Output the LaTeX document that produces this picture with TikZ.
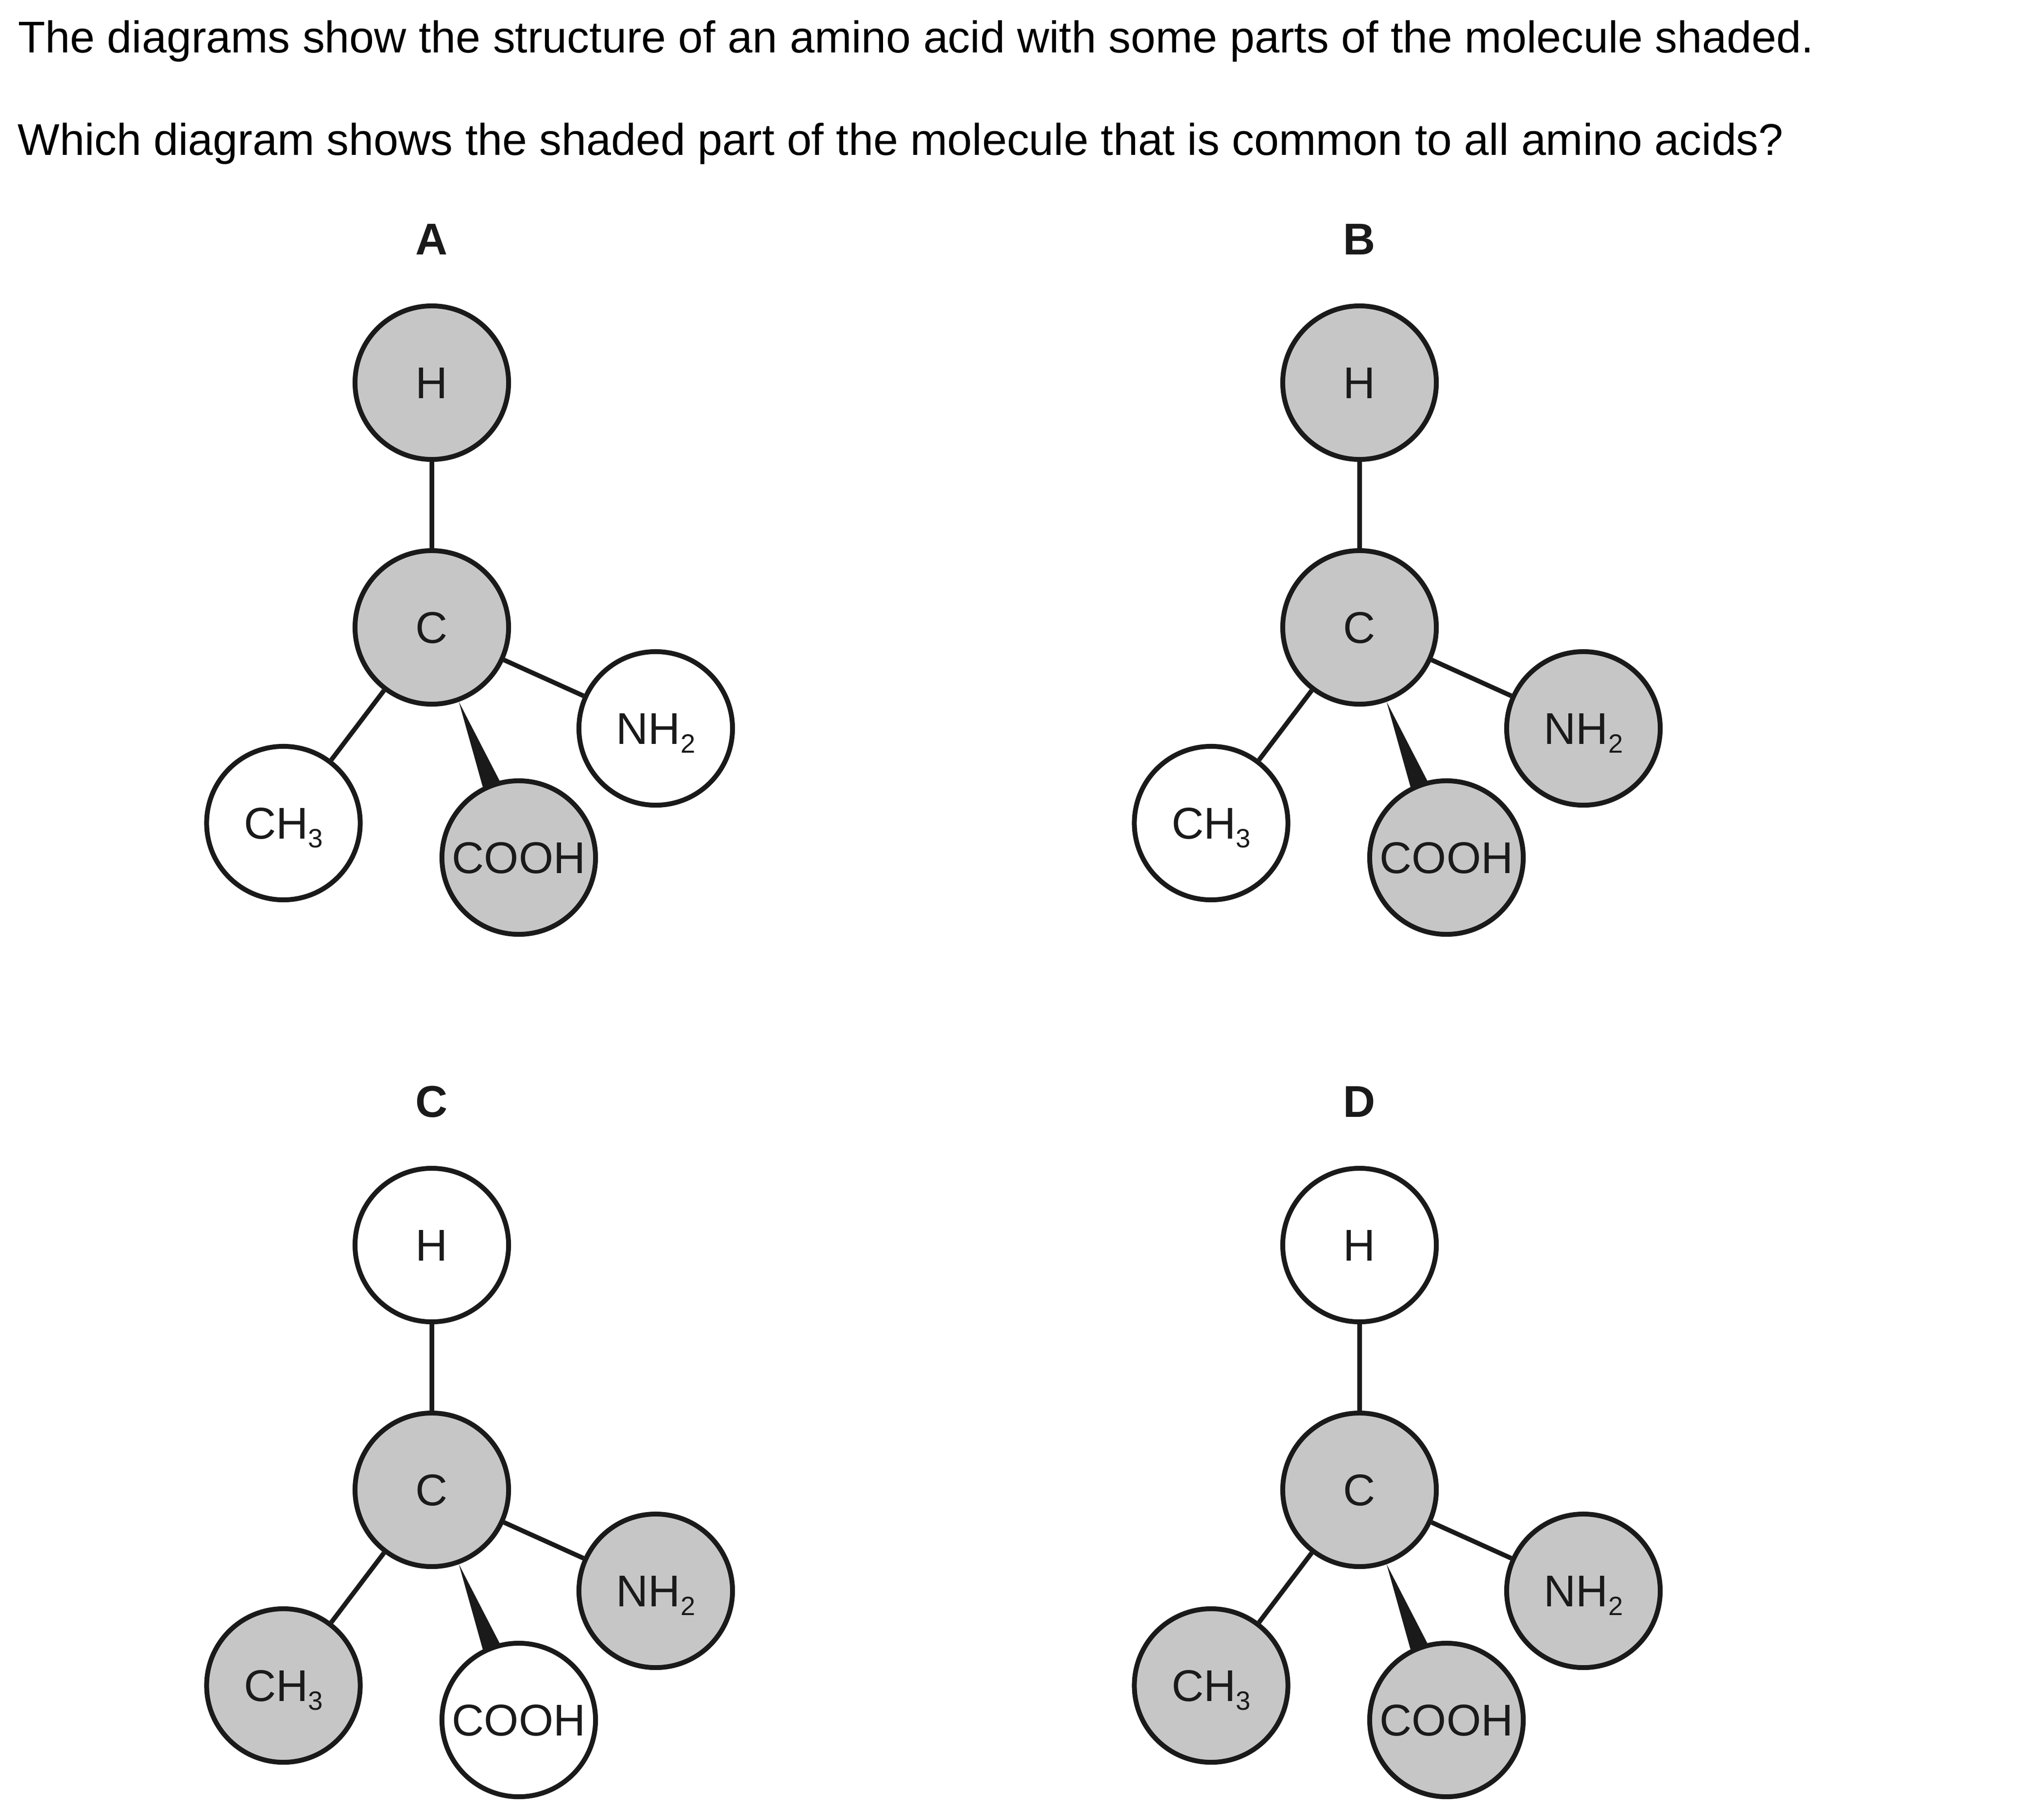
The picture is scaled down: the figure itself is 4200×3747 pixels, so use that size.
\documentclass[tikz,border=0pt]{standalone}
\usepackage{fontspec}
\setmainfont{Liberation Sans}
\definecolor{atomgrey}{HTML}{C6C6C6}
\definecolor{inkdark}{HTML}{1A1A1A}
\newcommand{\subnum}[1]{\raisebox{-.18cm}{\fontsize{15.5pt}{15.5pt}\selectfont #1}}
\tikzset{
  txt/.style={inner sep=0pt,font=\fontsize{26.05pt}{30pt}\selectfont},
  atom/.style={draw=inkdark,circle,line width=.1cm,minimum size=3.16cm,inner sep=0pt,
    text=inkdark,text height=.65cm,text depth=0pt,font=\fontsize{26.05pt}{30pt}\selectfont},
  grey/.style={atom,fill=atomgrey},
  white/.style={atom,fill=white},
  bond/.style={draw=inkdark,line width=.095cm}
}
\begin{document}
\begin{tikzpicture}[x=.01cm,y=-.01cm]
\useasboundingbox (0,0) rectangle (4200,3747);

\node[txt,anchor=base west] (q1) at (37,108) {The diagrams show the structure of an amino acid with some parts of the molecule shaded.};
\node[txt,anchor=base west] (q2) at (36,319) {Which diagram shows the shaded part of the molecule that is common to all amino acids?};

\foreach \name/\dx/\dy/\sh/\sm/\so/\sn in {
    A/0/0/grey/white/grey/white,
    B/1910/0/grey/white/grey/grey,
    C/0/1776/white/grey/white/grey,
    D/1910/1776/white/grey/grey/grey} {
  \begin{scope}[shift={(\dx,\dy)}]
    \node[txt,anchor=base,text=inkdark] (l\name) at (889,524) {\bfseries\name};
    \node[\sh] (h\name) at (889,788) {H};
    \node[grey] (c\name) at (889,1292) {C};
    \node[\sm] (m\name) at (583.5,1695) {CH\subnum{3}};
    \node[\so] (o\name) at (1068,1766) {COOH};
    \node[\sn] (n\name) at (1350,1500) {NH\subnum{2}};
    \draw[bond] (c\name) -- (h\name)
      (c\name) -- (m\name)
      (c\name) -- (n\name);
    \fill[inkdark] (c\name.-70) -- (o\name.117) -- (o\name.104) -- cycle; % wedge
  \end{scope}
}
\end{tikzpicture}
\end{document}
